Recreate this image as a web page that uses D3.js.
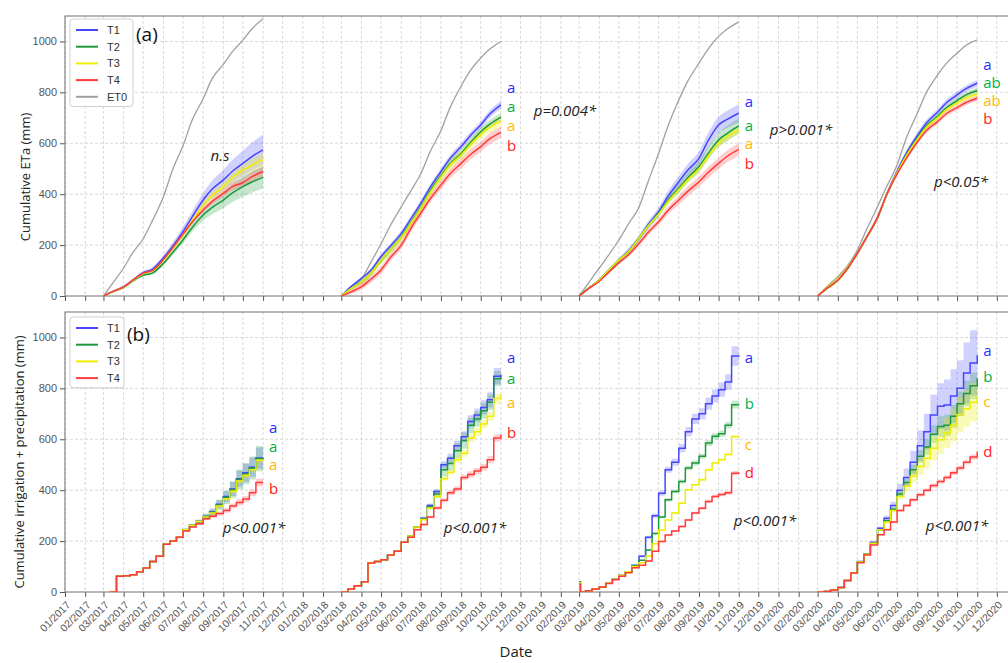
<!DOCTYPE html>
<html>
<head>
<meta charset="utf-8">
<script src="https://cdn.jsdelivr.net/npm/d3@7"></script>
<style>
body { margin: 0; background: #fff; }
svg { display: block; }
text { font-family: "Liberation Sans", Arial, sans-serif; }
</style>
</head>
<body>
<div id="chart"></div>
<script>
// ---- data ----
const seasons = [2017, 2018, 2019, 2020];
const treatments = ["T1", "T2", "T3", "T4"];

// (a) cumulative ETa, sampled on the 1st and 15th of each month
const etaDays = ["03-01","03-15","04-01","04-15","05-01","05-15","06-01","06-15","07-01","07-15","08-01","08-15","09-01","09-15","10-01","10-15","11-01"];

const etaET0 = [
  [0, 50, 110, 170, 225, 295, 390, 495, 590, 690, 775, 855, 910, 960, 1005, 1050, 1089],
  [0, 30, 67, 130, 205, 275, 350, 410, 480, 565, 650, 740, 825, 885, 935, 970, 1000],
  [0, 50, 110, 160, 220, 280, 350, 450, 560, 665, 770, 845, 915, 970, 1020, 1050, 1077],
  [0, 35, 76, 115, 181, 260, 351, 430, 515, 620, 718, 800, 868, 915, 954, 985, 1006]
];
const etaT1 = [
  [0, 18, 37, 62, 92, 105, 150, 195, 253, 310, 377, 420, 456, 490, 521, 548, 574],
  [0, 35, 69, 100, 155, 195, 246, 300, 364, 425, 489, 540, 587, 630, 672, 715, 751],
  [0, 30, 63, 100, 141, 175, 227, 280, 331, 390, 449, 495, 541, 610, 672, 695, 718],
  [0, 30, 63, 105, 168, 230, 310, 400, 490, 560, 630, 680, 722, 760, 790, 815, 836]
];
const etaT2 = [
  [0, 16, 33, 58, 82, 90, 128, 170, 220, 268, 318, 348, 377, 405, 430, 448, 466],
  [0, 28, 55, 88, 140, 180, 232, 285, 348, 410, 472, 520, 560, 602, 645, 675, 703],
  [0, 30, 63, 100, 141, 172, 227, 275, 325, 375, 423, 465, 508, 560, 613, 640, 668],
  [0, 30, 63, 105, 168, 230, 308, 398, 485, 552, 620, 668, 705, 740, 768, 790, 807]
];
const etaT3 = [
  [0, 17, 35, 60, 88, 98, 140, 185, 240, 295, 357, 395, 430, 465, 495, 515, 537],
  [0, 28, 55, 88, 140, 180, 230, 282, 345, 405, 468, 515, 555, 595, 635, 662, 688],
  [0, 30, 63, 100, 141, 172, 227, 275, 322, 370, 418, 458, 500, 550, 600, 627, 652],
  [0, 32, 66, 108, 168, 230, 308, 398, 485, 550, 616, 663, 700, 733, 758, 778, 793]
];
const etaT4 = [
  [0, 17, 36, 62, 90, 100, 143, 188, 243, 290, 338, 372, 403, 430, 445, 469, 489],
  [0, 15, 37, 65, 102, 150, 200, 262, 325, 380, 436, 480, 521, 555, 587, 618, 643],
  [0, 28, 58, 92, 130, 160, 207, 250, 292, 335, 377, 412, 449, 485, 521, 550, 576],
  [0, 30, 63, 105, 168, 230, 308, 398, 480, 540, 605, 650, 685, 717, 740, 760, 777]
];
// half-width of the shaded bands
const etaT1sd = [
  [0, 2, 3, 5, 6, 8, 10, 14, 18, 22, 28, 34, 40, 45, 50, 55, 60],
  [0, 4, 6, 8, 9, 10, 10, 11, 12, 12, 13, 13, 14, 14, 15, 15, 15],
  [0, 3, 5, 6, 8, 10, 12, 15, 18, 20, 22, 25, 28, 30, 32, 34, 35],
  [0, 4, 5, 6, 7, 8, 9, 10, 10, 11, 11, 12, 12, 12, 13, 13, 13]
];
const etaT2sd = [
  [0, 2, 3, 4, 5, 6, 8, 10, 13, 17, 22, 27, 32, 36, 40, 42, 44],
  [0, 5, 8, 10, 12, 13, 14, 14, 15, 15, 15, 15, 15, 16, 16, 16, 16],
  [0, 3, 4, 5, 6, 8, 10, 12, 14, 16, 18, 20, 22, 25, 28, 30, 30],
  [0, 3, 4, 5, 6, 7, 8, 8, 9, 9, 10, 10, 10, 10, 11, 11, 11]
];
const etaT3sd = [
  [0, 1, 2, 3, 4, 5, 6, 8, 10, 12, 14, 16, 18, 20, 22, 24, 25],
  [0, 8, 12, 15, 15, 18, 18, 18, 20, 20, 20, 20, 20, 20, 20, 20, 20],
  [0, 2, 3, 4, 5, 6, 7, 8, 9, 10, 11, 12, 13, 14, 15, 16, 16],
  [0, 10, 15, 12, 8, 7, 7, 8, 8, 9, 9, 10, 10, 10, 10, 11, 11]
];
const etaT4sd = [
  [0, 1, 2, 3, 3, 4, 5, 6, 7, 8, 10, 12, 14, 16, 18, 20, 20],
  [0, 8, 12, 14, 15, 15, 15, 15, 15, 15, 18, 18, 20, 20, 20, 22, 22],
  [0, 3, 4, 5, 6, 8, 10, 12, 14, 16, 18, 20, 20, 22, 22, 24, 24],
  [0, 3, 4, 5, 6, 7, 8, 8, 9, 9, 10, 10, 10, 10, 11, 11, 11]
];

// (b) cumulative irrigation + precipitation, level from each date on
const irrDays = ["03-01","03-11","03-21","04-01","04-11","04-21","05-01","05-11","05-21","06-01","06-11","06-21","07-01","07-11","07-21","08-01","08-11","08-21","09-01","09-11","09-21","10-01","10-11","10-21","11-01"];
const irrDays2019 = ["03-01","03-03","03-11","03-21","04-01","04-11","04-21","05-01","05-11","05-21","06-01","06-11","06-21","07-01","07-11","07-21","08-01","08-11","08-21","09-01","09-11","09-21","10-01","10-11","10-21","11-01"];

const irrT1 = [
  [null, 0, 62, 64, 68, 80, 94, 120, 140, 188, 200, 215, 245, 262, 277, 297, 315, 345, 375, 405, 445, 468, 490, 526, 527],
  [0, 12, 25, 40, 114, 120, 127, 145, 160, 195, 220, 255, 290, 340, 395, 500, 525, 575, 610, 670, 695, 725, 755, 848, 853],
  [35, 0, 5, 12, 20, 35, 50, 65, 80, 105, 140, 215, 300, 388, 480, 510, 565, 630, 680, 700, 740, 770, 795, 825, 927, 930],
  [0, 2, 8, 18, 45, 75, 120, 150, 195, 250, 290, 340, 400, 450, 510, 575, 630, 695, 730, 735, 770, 800, 860, 900, 930]
];
const irrT2 = [
  [null, 0, 62, 64, 68, 80, 94, 120, 140, 188, 200, 215, 245, 262, 277, 297, 313, 342, 372, 402, 442, 465, 487, 524, 525],
  [0, 12, 25, 40, 114, 120, 127, 145, 160, 195, 220, 255, 288, 335, 385, 480, 505, 555, 595, 655, 680, 712, 745, 838, 845],
  [40, 0, 5, 12, 20, 35, 50, 65, 80, 103, 125, 165, 230, 295, 362, 395, 434, 487, 507, 533, 585, 612, 622, 655, 736, 737],
  [0, 2, 8, 18, 45, 75, 118, 148, 192, 245, 280, 325, 385, 430, 480, 533, 570, 620, 650, 655, 690, 740, 780, 810, 839]
];
const irrT3 = [
  [null, 0, 62, 64, 68, 80, 94, 120, 140, 188, 200, 215, 245, 262, 277, 295, 310, 338, 366, 396, 436, 458, 480, 518, 519],
  [0, 12, 25, 40, 114, 120, 127, 145, 160, 195, 220, 255, 285, 330, 375, 445, 470, 520, 545, 605, 630, 660, 690, 760, 775],
  [35, 0, 5, 12, 20, 35, 50, 65, 80, 100, 115, 140, 190, 244, 283, 310, 349, 402, 421, 441, 480, 507, 520, 540, 611, 612],
  [0, 2, 8, 18, 45, 75, 118, 148, 192, 245, 275, 320, 375, 415, 455, 493, 525, 565, 598, 625, 655, 697, 720, 745, 766]
];
const irrT4 = [
  [null, 0, 62, 64, 68, 80, 94, 120, 140, 188, 200, 215, 240, 255, 268, 288, 298, 308, 320, 338, 352, 365, 390, 430, 430],
  [0, 12, 25, 40, 114, 120, 127, 145, 160, 195, 215, 245, 265, 295, 330, 360, 390, 405, 450, 462, 475, 490, 520, 605, 618],
  [30, 0, 5, 12, 20, 33, 48, 62, 76, 95, 105, 122, 160, 198, 224, 240, 257, 283, 310, 329, 356, 375, 383, 390, 467, 470],
  [0, 2, 8, 18, 45, 75, 115, 145, 185, 225, 245, 275, 320, 340, 362, 382, 400, 418, 434, 450, 468, 487, 510, 530, 552]
];
const irrT1sd = [
  [null, 0, 0, 0, 0, 0, 0, 0, 0, 2, 2, 3, 4, 5, 6, 8, 12, 16, 22, 28, 32, 36, 38, 42, 42],
  [0, 0, 0, 0, 0, 0, 0, 0, 0, 2, 3, 4, 6, 8, 10, 14, 18, 20, 22, 24, 26, 28, 30, 32, 32],
  [0, 0, 0, 0, 0, 0, 0, 0, 0, 2, 4, 6, 8, 10, 12, 14, 16, 18, 20, 22, 24, 26, 28, 30, 38, 40],
  [0, 0, 0, 0, 0, 0, 2, 3, 4, 6, 10, 15, 25, 35, 45, 60, 70, 80, 90, 100, 105, 110, 120, 128, 135]
];
const irrT2sd = [
  [null, 0, 0, 0, 0, 0, 0, 0, 0, 2, 3, 4, 5, 6, 8, 10, 15, 20, 26, 32, 38, 42, 45, 50, 50],
  [0, 0, 0, 0, 0, 0, 0, 0, 0, 2, 3, 4, 6, 10, 14, 25, 28, 30, 32, 30, 30, 30, 30, 30, 30],
  [0, 0, 0, 0, 0, 0, 0, 0, 0, 1, 2, 3, 4, 5, 6, 7, 8, 9, 10, 10, 11, 12, 12, 13, 15, 15],
  [0, 0, 0, 0, 0, 0, 1, 2, 3, 4, 6, 8, 12, 16, 20, 25, 30, 35, 40, 42, 45, 48, 50, 52, 55]
];
const irrT3sd = [
  [null, 0, 0, 0, 0, 0, 0, 0, 0, 1, 1, 2, 2, 3, 3, 4, 5, 6, 7, 8, 9, 10, 10, 12, 12],
  [0, 0, 0, 0, 0, 0, 0, 0, 0, 1, 2, 3, 4, 5, 6, 8, 10, 12, 14, 15, 16, 17, 18, 20, 20],
  [0, 0, 0, 0, 0, 0, 0, 0, 0, 1, 1, 1, 2, 2, 2, 3, 3, 3, 3, 4, 4, 4, 4, 5, 5, 5],
  [0, 0, 0, 0, 0, 0, 1, 2, 3, 4, 6, 8, 12, 18, 25, 32, 40, 48, 55, 60, 65, 70, 72, 75, 75]
];
const irrT4sd = [
  [null, 0, 0, 0, 0, 0, 0, 0, 0, 1, 2, 2, 3, 4, 5, 6, 7, 8, 9, 10, 11, 12, 13, 15, 15],
  [0, 0, 0, 0, 0, 0, 0, 0, 0, 1, 2, 3, 4, 5, 6, 8, 9, 10, 11, 12, 12, 13, 14, 15, 15],
  [0, 0, 0, 0, 0, 0, 0, 0, 0, 1, 1, 2, 2, 3, 3, 4, 4, 5, 5, 6, 6, 7, 7, 8, 8, 8],
  [0, 0, 0, 0, 0, 0, 1, 2, 3, 4, 4, 5, 5, 6, 6, 7, 7, 8, 8, 8, 8, 9, 9, 10, 10]
];

// significance letters and test results
const etaLetters = [[], ["a","a","a","b"], ["a","a","a","b"], ["a","ab","ab","b"]];
const etaTests = ["n.s", "p=0.004*", "p>0.001*", "p<0.05*"];
const irrLetters = [["a","a","a","b"], ["a","a","a","b"], ["a","b","c","d"], ["a","b","c","d"]];
const irrTests = ["p<0.001*", "p<0.001*", "p<0.001*", "p<0.001*"];

// ---- layout ----
const W = 1008, H = 663;
const lineColors = ["#4646ff", "#1a9a3c", "#eeee00", "#ff3b3b"];
const letterColors = ["#2b2bff", "#00b050", "#ffb800", "#ff2020"];
const et0Color = "#a0a0a0";
const annoFont = "'Open Sans', 'Noto Sans', sans-serif";

const parse = d3.timeParse("%Y-%m-%d");
const x = d3.scaleTime()
  .domain([new Date(2017, 0, 1), new Date(2021, 0, 1)])
  .range([65, 1017]);
const monthTicks = d3.timeMonth.range(new Date(2017, 0, 1), new Date(2020, 11, 2));

const svg = d3.select("#chart").append("svg")
  .attr("width", W).attr("height", H);

function makePanel(id, top, bottom, showLabels) {
  const y = d3.scaleLinear().domain([0, 1100]).range([bottom, top]);
  const g = svg.append("g").attr("class", "panel-" + id);

  svg.append("clipPath").attr("id", "clip-" + id)
    .append("rect").attr("x", 65).attr("y", top).attr("width", 952).attr("height", bottom - top);

  // grid
  g.append("g").selectAll("line").data(monthTicks).join("line")
    .attr("x1", d => x(d)).attr("x2", d => x(d))
    .attr("y1", top).attr("y2", bottom)
    .attr("stroke", "#d8d8d8").attr("stroke-dasharray", "3,2");
  g.append("g").selectAll("line").data([200, 400, 600, 800, 1000]).join("line")
    .attr("x1", 65).attr("x2", 1017)
    .attr("y1", d => y(d)).attr("y2", d => y(d))
    .attr("stroke", "#d8d8d8").attr("stroke-dasharray", "3,2");

  // axes
  const yAxis = g.append("g").attr("transform", "translate(65,0)")
    .call(d3.axisLeft(y).tickValues([0, 200, 400, 600, 800, 1000])
      .tickFormat(d3.format("d")).tickSize(5).tickPadding(3));
  yAxis.select(".domain").remove();
  yAxis.selectAll(".tick line").attr("stroke", "#555");
  yAxis.selectAll("text").attr("fill", "#555").style("font-size", "11px")
    .style("font-family", "'Liberation Sans', Arial, sans-serif");

  const xAxis = g.append("g").attr("transform", "translate(0," + bottom + ")")
    .call(d3.axisBottom(x).tickValues(monthTicks).tickSize(5)
      .tickFormat(showLabels ? d3.timeFormat("%m/%Y") : ""));
  xAxis.select(".domain").remove();
  xAxis.selectAll(".tick line").attr("stroke", "#555");
  if (showLabels) {
    xAxis.selectAll("text")
      .attr("fill", "#555").style("font-size", "10.5px")
      .style("font-family", "'Liberation Sans', Arial, sans-serif")
      .attr("text-anchor", "end")
      .attr("x", 0).attr("y", 0).attr("dy", "0.35em")
      .attr("transform", "translate(3,11) rotate(-45)");
  }

  // frame
  g.append("rect").attr("x", 65).attr("y", top).attr("width", 952).attr("height", bottom - top)
    .attr("fill", "none").attr("stroke", "#707070");

  const plot = g.append("g").attr("clip-path", "url(#clip-" + id + ")");
  return { y, g, plot };
}

function buildRows(dates, vals, sds) {
  return dates.map((d, i) => ({ date: d, v: vals[i], sd: sds ? sds[i] : 0 }));
}

function drawSeries(panel, datesBySeason, valueSets, sdSets, curve, et0) {
  const { y, plot } = panel;
  const area = d3.area().defined(d => d.v != null).curve(curve)
    .x(d => x(d.date)).y0(d => y(d.v - d.sd)).y1(d => y(d.v + d.sd));
  const line = d3.line().defined(d => d.v != null).curve(curve)
    .x(d => x(d.date)).y(d => y(d.v));

  seasons.forEach((yr, s) => {
    valueSets.forEach((vals, t) => {
      plot.append("path").datum(buildRows(datesBySeason[s], vals[s], sdSets[t][s]))
        .attr("d", area).attr("fill", lineColors[t])
        .attr("fill-opacity", t === 2 ? 0.28 : 0.25).attr("stroke", "none");
    });
  });
  seasons.forEach((yr, s) => {
    if (et0) {
      plot.append("path").datum(buildRows(datesBySeason[s], et0[s], null))
        .attr("d", line).attr("fill", "none").attr("stroke", et0Color).attr("stroke-width", 1.3);
    }
    valueSets.forEach((vals, t) => {
      plot.append("path").datum(buildRows(datesBySeason[s], vals[s], null))
        .attr("d", line).attr("fill", "none").attr("stroke", lineColors[t]).attr("stroke-width", 1.5);
    });
  });
}

function drawLegend(top, w, items, colors) {
  const g = svg.append("g");
  g.append("rect").attr("x", 70).attr("y", top).attr("width", w).attr("height", items.length * 16.7 + 4)
    .attr("rx", 3).attr("fill", "#fff").attr("stroke", "#cfcfcf");
  items.forEach((name, i) => {
    const cy = top + 11 + i * 16.7;
    g.append("line").attr("x1", 76).attr("x2", 98).attr("y1", cy).attr("y2", cy)
      .attr("stroke", colors[i]).attr("stroke-width", 2);
    g.append("text").attr("x", 107).attr("y", cy + 4).text(name)
      .style("font-size", "11px").attr("fill", "#333");
  });
}

function drawLetters(panel, letters, endDates, anchorVals) {
  letters.forEach((set, s) => {
    set.forEach((l, t) => {
      svg.append("text")
        .attr("x", x(endDates[s]) + 6)
        .attr("y", panel.y(anchorVals[s][t]) + 5)
        .text(l).attr("fill", letterColors[t])
        .style("font-family", annoFont).style("font-size", "15px");
    });
  });
}

// ---- panel (a) ----
const pA = makePanel("a", 16, 296, false);
const etaDates = seasons.map(yr => etaDays.map(d => parse(yr + "-" + d)));
drawSeries(pA, etaDates, [etaT1, etaT2, etaT3, etaT4],
  [etaT1sd, etaT2sd, etaT3sd, etaT4sd], d3.curveMonotoneX, etaET0);

// ---- panel (b) ----
const pB = makePanel("b", 312, 592, true);
const irrDates = seasons.map(yr => (yr === 2019 ? irrDays2019 : irrDays).map(d => parse(yr + "-" + d)));
drawSeries(pB, irrDates, [irrT1, irrT2, irrT3, irrT4],
  [irrT1sd, irrT2sd, irrT3sd, irrT4sd], d3.curveStepAfter, null);

// legends
drawLegend(19, 63, ["T1", "T2", "T3", "T4", "ET0"], lineColors.concat([et0Color]));
drawLegend(317, 54, ["T1", "T2", "T3", "T4"], lineColors);

// panel tags
svg.append("text").attr("x", 136).attr("y", 41).text("(a)")
  .style("font-family", annoFont).style("font-size", "19px").attr("fill", "#111");
svg.append("text").attr("x", 127).attr("y", 341).text("(b)")
  .style("font-family", annoFont).style("font-size", "19px").attr("fill", "#111");

// significance letters, anchored at the season end
const seasonEnds = seasons.map(yr => parse(yr + "-11-01"));
drawLetters(pA, etaLetters, seasonEnds,
  [[], [817, 742, 668, 589], [762, 668, 597, 518], [907, 837, 766, 695]]);
drawLetters(pB, irrLetters, seasonEnds,
  [[646, 571, 500, 406], [921, 835, 744, 626], [921, 740, 579, 469], [945, 846, 748, 551]]);

// test results
const etaTestPos = [[220, 161], [565, 116], [801, 135], [961, 187]];
const irrTestPos = [[254, 533], [475, 533], [765, 526], [957, 531]];
etaTests.forEach((t, i) => svg.append("text").attr("x", etaTestPos[i][0]).attr("y", etaTestPos[i][1])
  .attr("text-anchor", "middle").text(t).attr("fill", "#222")
  .style("font-family", annoFont).style("font-style", "italic").style("font-size", "15px"));
irrTests.forEach((t, i) => svg.append("text").attr("x", irrTestPos[i][0]).attr("y", irrTestPos[i][1])
  .attr("text-anchor", "middle").text(t).attr("fill", "#222")
  .style("font-family", annoFont).style("font-style", "italic").style("font-size", "15px"));

// axis titles
svg.append("text").attr("transform", "translate(30,177) rotate(-90)")
  .attr("text-anchor", "middle").text("Cumulative ETa (mm)")
  .style("font-family", annoFont).style("font-size", "13px").attr("fill", "#222");
svg.append("text").attr("transform", "translate(24,462) rotate(-90)")
  .attr("text-anchor", "middle").text("Cumulative irrigation + precipitation (mm)")
  .style("font-family", annoFont).style("font-size", "13px").attr("fill", "#222");
svg.append("text").attr("x", 516).attr("y", 657)
  .attr("text-anchor", "middle").text("Date")
  .style("font-family", annoFont).style("font-size", "15px").attr("fill", "#222");
</script>
</body>
</html>
